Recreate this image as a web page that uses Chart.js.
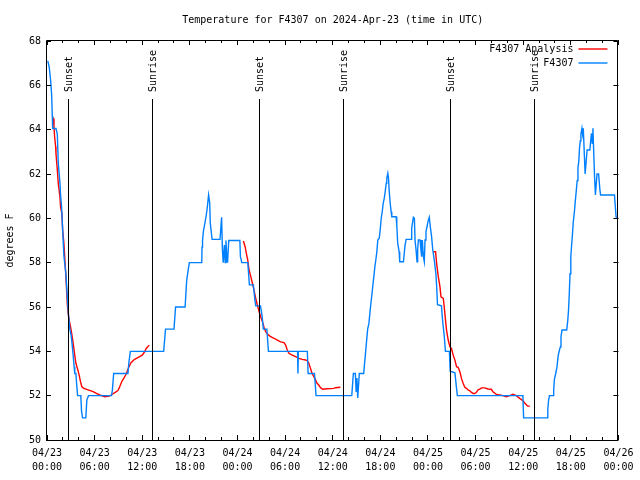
<!DOCTYPE html>
<html>
<head>
<meta charset="utf-8">
<script src="https://cdn.jsdelivr.net/npm/chart.js@4"></script>
<style>
html,body{margin:0;padding:0;background:#ffffff;}
#c{display:block;}
</style>
</head>
<body>
<canvas id="c" width="640" height="480"></canvas>
<script>
// ---------------- DATA ----------------
const chartTitle = 'Temperature for F4307 on 2024-Apr-23 (time in UTC)';
const yAxisTitle = 'degrees F';

// x axis: hours since 2024-04-23 00:00 UTC
const xMin = 0;
const xMax = 72;
const xMinorStep = 2;
const xTickHours = [0, 6, 12, 18, 24, 30, 36, 42, 48, 54, 60, 66, 72];
const xTickDates = ['04/23','04/23','04/23','04/23','04/24','04/24','04/24','04/24','04/25','04/25','04/25','04/25','04/26'];
const xTickTimes = ['00:00','06:00','12:00','18:00','00:00','06:00','12:00','18:00','00:00','06:00','12:00','18:00','00:00'];

const yMin = 50;
const yMax = 68;
const yTicks = [50, 52, 54, 56, 58, 60, 62, 64, 66, 68];

const sunEventHours  = [2.67, 13.32, 26.76, 37.42, 50.85, 61.36];
const sunEventLabels = ['Sunset', 'Sunrise', 'Sunset', 'Sunrise', 'Sunset', 'Sunrise'];

const seriesNames = ['F4307 Analysis', 'F4307'];

// F4307 observations (hours, degrees F)
const obsHours = [0.10,0.29,0.46,0.58,0.67,0.71,1.13,1.30,1.42,1.63,1.71,1.84,1.97,2.13,2.38,2.55,2.72,2.88,3.05,3.17,3.30,3.42,3.50,3.64,3.73,3.85,4.26,4.35,4.48,4.89,5.02,5.23,8.12,8.24,8.40,10.20,10.32,10.50,14.70,14.93,16.00,16.20,17.40,17.60,17.80,17.94,19.50,19.53,19.60,19.70,19.90,20.07,20.20,20.36,20.50,20.57,20.80,21.80,22.00,22.10,22.20,22.35,22.45,22.55,22.65,22.75,22.90,24.30,24.37,24.55,25.30,25.50,26.00,26.20,26.30,26.90,27.10,27.26,27.70,27.90,31.57,31.62,31.67,32.80,32.90,33.70,33.90,38.40,38.60,38.85,38.95,39.05,39.15,39.35,39.90,40.20,40.40,40.56,40.68,40.81,40.93,41.06,41.18,41.31,41.43,41.56,41.68,41.86,41.98,42.11,42.24,42.36,42.49,42.61,42.74,42.81,42.94,43.03,43.11,43.24,43.36,43.44,43.99,44.07,44.19,44.37,44.44,44.91,45.03,45.12,45.25,45.87,45.95,46.16,46.29,46.37,46.50,46.62,46.70,46.79,47.00,47.12,47.20,47.29,47.42,47.54,47.63,47.75,47.88,48.04,48.17,48.30,48.45,48.60,48.80,49.00,49.10,49.20,49.70,49.84,50.05,50.20,50.70,50.80,51.40,51.55,51.70,59.96,60.05,63.00,63.10,63.20,63.30,63.77,63.84,63.93,64.10,64.26,64.39,64.51,64.69,64.76,64.89,65.48,65.60,65.70,65.80,65.90,66.00,66.10,66.20,66.30,66.45,66.57,66.70,66.80,66.90,67.00,67.10,67.20,67.27,67.40,67.48,67.57,67.80,68.00,68.05,68.40,68.50,68.60,68.70,68.78,69.00,69.10,69.30,69.50,69.66,69.75,71.50,71.70,72.00];
const obsTemps = [67.1,66.8,66.2,65.6,64.6,64.05,64.05,63.8,62.5,61.6,61.05,60.5,59.5,58.3,57.5,56.5,55.6,55.0,54.7,54.3,53.8,53.3,53.0,53.0,52.55,52.0,52.0,51.3,51.0,51.0,51.8,52.0,52.0,52.25,53.0,53.0,53.5,54.0,54.0,55.0,55.0,56.0,56.0,57.2,57.7,58.0,58.0,58.7,59.0,59.4,59.8,60.15,60.5,61.05,60.7,59.8,59.05,59.05,60.05,58.6,58.0,58.8,58.0,59.0,58.3,58.0,59.0,59.0,58.27,58.0,58.0,57.0,57.0,56.3,56.05,56.05,55.6,55.0,55.0,54.0,54.0,53.0,54.0,54.0,53.0,53.0,52.0,52.0,53.0,53.0,52.2,52.8,51.9,53.0,53.0,54.2,55.0,55.26,55.71,56.17,56.54,56.99,57.37,57.82,58.12,58.49,59.02,59.1,59.47,60.0,60.3,60.68,60.9,61.2,61.58,61.8,62.03,61.8,61.28,60.68,60.3,60.07,60.07,59.7,58.87,58.49,58.04,58.04,58.49,58.8,59.05,59.05,59.55,60.05,60.0,59.02,58.57,58.04,58.57,59.02,59.02,58.57,58.27,59.02,58.27,58.04,59.02,59.4,59.62,59.92,60.05,59.6,59.2,58.6,58.1,57.5,56.9,56.1,56.05,55.4,54.7,54.0,54.0,53.1,53.03,52.5,52.0,52.0,51.0,51.0,51.4,51.8,52.0,52.0,52.26,52.74,53.0,53.31,53.76,53.98,54.21,54.66,54.96,54.96,55.34,55.8,56.54,57.5,58.27,58.8,59.25,59.8,60.3,60.8,61.3,61.7,62.3,62.55,63.2,63.5,63.8,64.06,63.8,64.06,62.0,62.86,63.08,63.08,63.5,63.83,63.38,64.06,61.8,61.05,62.0,62.0,61.3,61.05,61.05,60.07,60.0];

// F4307 Analysis (hours, degrees F); null separates the three runs
const anaHours = [0.71,0.79,0.88,0.96,1.09,1.13,1.30,1.42,1.63,1.71,1.88,1.97,2.13,2.26,2.38,2.47,2.55,2.67,2.80,2.97,3.14,3.30,3.47,3.64,3.89,4.05,4.22,4.39,4.64,5.18,5.81,6.23,6.65,7.28,7.82,8.07,8.74,8.99,9.16,9.41,9.66,9.91,10.08,10.32,10.58,11.04,11.67,12.00,12.30,12.50,12.88,
  18.0,
  24.75,24.96,25.13,25.30,25.46,25.68,25.88,26.09,26.30,26.50,26.72,26.93,27.13,27.35,27.56,27.89,28.19,28.60,29.02,29.44,29.85,30.07,30.27,30.48,30.90,31.32,31.74,32.15,32.58,32.78,32.99,33.20,33.40,33.62,33.83,34.03,34.24,34.46,34.75,35.29,36.13,36.34,36.97,
  42.0,
  48.67,48.96,49.09,49.30,49.51,49.64,49.93,50.05,50.21,50.34,50.55,50.76,50.96,51.18,51.39,51.60,51.80,52.02,52.22,52.43,52.64,52.85,53.06,53.27,53.48,53.69,53.90,54.10,54.31,54.52,54.73,55.15,55.56,55.98,56.19,56.61,57.03,57.45,57.87,58.29,58.71,59.13,59.55,59.96,60.17,60.42,60.59,60.84];
const anaTemps = [64.58,64.5,64.13,63.68,63.23,62.93,62.18,61.58,60.97,60.5,60.2,59.47,58.87,58.1,57.37,56.77,56.17,55.7,55.4,55.1,54.74,54.36,53.9,53.46,53.16,52.93,52.63,52.4,52.33,52.26,52.18,52.1,52.03,51.95,51.98,52.03,52.18,52.26,52.4,52.63,52.78,52.93,53.08,53.3,53.49,53.64,53.76,53.83,53.98,54.13,54.28,
  null,
  58.98,58.72,58.4,58.1,57.67,57.37,57.07,56.75,56.39,56.09,55.8,55.55,55.35,55.08,54.88,54.74,54.66,54.59,54.51,54.43,54.39,54.28,54.06,53.91,53.83,53.76,53.68,53.64,53.61,53.58,53.46,53.23,53.0,52.86,52.71,52.56,52.48,52.36,52.29,52.31,52.33,52.36,52.38,
  null,
  58.49,58.49,57.97,57.37,56.92,56.46,56.39,56.01,55.41,54.96,54.51,54.21,54.13,53.83,53.61,53.31,53.28,53.08,52.78,52.56,52.38,52.33,52.26,52.22,52.15,52.1,52.1,52.15,52.26,52.29,52.35,52.35,52.3,52.29,52.18,52.06,52.03,52.0,51.95,52.0,52.06,52.0,51.88,51.77,51.68,51.58,51.53,51.53];

// ---------------- STYLE ----------------
const FONT_FAMILY = '"DejaVu Sans Mono", "Liberation Mono", monospace';
const seriesColors = ['#ff0000', '#0080ff'];
const LINE_WIDTH = 1.4;

Chart.defaults.color = '#000000';
Chart.defaults.font.family = FONT_FAMILY;
Chart.defaults.font.size = 10;

const zip = (xs, ys) => xs.map((x, i) => ({ x: x, y: ys[i] }));

// frame, inward ticks, sunrise/sunset markers and legend (gnuplot look)
const gnuplotDecor = {
  id: 'gnuplotDecor',
  afterDatasetsDraw(chart) {
    const ctx = chart.ctx;
    const a = chart.chartArea;
    const xs = chart.scales.x;
    const ys = chart.scales.y;
    const al = v => Math.round(v) + 0.5;
    ctx.save();
    ctx.strokeStyle = '#000000';
    ctx.lineWidth = 1;

    // sunrise / sunset vertical lines with rotated labels
    ctx.font = '10px ' + FONT_FAMILY;
    sunEventHours.forEach((h, i) => {
      const px = al(xs.getPixelForValue(h) - 0.5);
      ctx.strokeStyle = '#000000';
      ctx.beginPath();
      ctx.moveTo(px, a.top + 58);
      ctx.lineTo(px, a.bottom);
      ctx.stroke();
      ctx.save();
      ctx.translate(px + 0.5, a.top + 51);
      ctx.rotate(-Math.PI / 2);
      ctx.fillStyle = '#000000';
      ctx.textAlign = 'left';
      ctx.textBaseline = 'middle';
      ctx.fillText(sunEventLabels[i], 0, 0);
      ctx.restore();
    });

    // frame
    ctx.strokeStyle = '#000000';
    ctx.beginPath();
    ctx.rect(al(a.left - 1), al(a.top - 1), Math.round(a.right - a.left), Math.round(a.bottom - a.top) + 1);
    ctx.stroke();

    // x ticks (inward, bottom and top)
    ctx.beginPath();
    for (let h = xMin; h <= xMax; h += xMinorStep) {
      const px = al(xs.getPixelForValue(h) - 0.5);
      const len = xTickHours.includes(h) ? 5 : 3;
      ctx.moveTo(px, a.bottom);
      ctx.lineTo(px, a.bottom - len);
      ctx.moveTo(px, a.top - 1);
      ctx.lineTo(px, a.top - 1 + len);
    }
    // y ticks (inward, left and right)
    yTicks.forEach(v => {
      const py = al(ys.getPixelForValue(v) - 0.5);
      ctx.moveTo(a.left - 1, py);
      ctx.lineTo(a.left - 1 + 5, py);
      ctx.moveTo(a.right, py);
      ctx.lineTo(a.right - 5, py);
    });
    ctx.stroke();

    // legend (top right, inside plot)
    ctx.font = '10px ' + FONT_FAMILY;
    ctx.textAlign = 'right';
    ctx.textBaseline = 'middle';
    seriesNames.forEach((name, i) => {
      const y = a.top + 8 + i * 14;
      ctx.fillStyle = '#000000';
      ctx.fillText(name, a.right - 45, y);
      ctx.strokeStyle = seriesColors[i];
      ctx.lineWidth = LINE_WIDTH;
      ctx.beginPath();
      ctx.moveTo(a.right - 40, y);
      ctx.lineTo(a.right - 11, y);
      ctx.stroke();
    });
    ctx.restore();
  }
};

new Chart(document.getElementById('c'), {
  type: 'line',
  data: {
    datasets: [
      {
        label: seriesNames[0],
        data: zip(anaHours, anaTemps),
        borderColor: seriesColors[0],
        borderWidth: LINE_WIDTH,
        pointRadius: 0,
        tension: 0,
        spanGaps: false,
        order: 1
      },
      {
        label: seriesNames[1],
        data: zip(obsHours, obsTemps),
        borderColor: seriesColors[1],
        borderWidth: LINE_WIDTH,
        pointRadius: 0,
        tension: 0,
        order: 0
      }
    ]
  },
  options: {
    responsive: false,
    animation: false,
    devicePixelRatio: 1,
    events: [],
    layout: { padding: { left: 0, right: 19, top: 0, bottom: 0 } },
    plugins: {
      legend: { display: false },
      tooltip: { enabled: false },
      title: {
        display: true,
        text: chartTitle,
        fullSize: false,
        color: '#000000',
        font: { family: FONT_FAMILY, size: 10, weight: 'normal', lineHeight: 1.2 },
        padding: { top: 14, bottom: 15 }
      }
    },
    scales: {
      x: {
        type: 'linear',
        min: xMin,
        max: xMax,
        grid: { display: false, drawTicks: false },
        border: { display: false },
        afterBuildTicks: s => { s.ticks = xTickHours.map(v => ({ value: v })); },
        afterFit: s => { s.height = 40; },
        ticks: {
          autoSkip: false,
          maxRotation: 0,
          minRotation: 0,
          padding: 6.5,
          color: '#000000',
          font: { family: FONT_FAMILY, size: 10, lineHeight: 1.4 },
          callback: v => {
            const i = xTickHours.indexOf(v);
            return i >= 0 ? [xTickDates[i], xTickTimes[i]] : '';
          }
        }
      },
      y: {
        type: 'linear',
        min: yMin,
        max: yMax,
        grid: { display: false, drawTicks: false },
        border: { display: false },
        afterBuildTicks: s => { s.ticks = yTicks.map(v => ({ value: v })); },
        afterFit: s => { s.width = 47; },
        ticks: {
          padding: 6,
          color: '#000000',
          font: { family: FONT_FAMILY, size: 10 }
        },
        title: {
          display: true,
          text: yAxisTitle,
          color: '#000000',
          font: { family: FONT_FAMILY, size: 10, lineHeight: 1.2 },
          padding: { top: 4, bottom: 0 }
        }
      }
    }
  },
  plugins: [gnuplotDecor]
});
</script>
</body>
</html>
